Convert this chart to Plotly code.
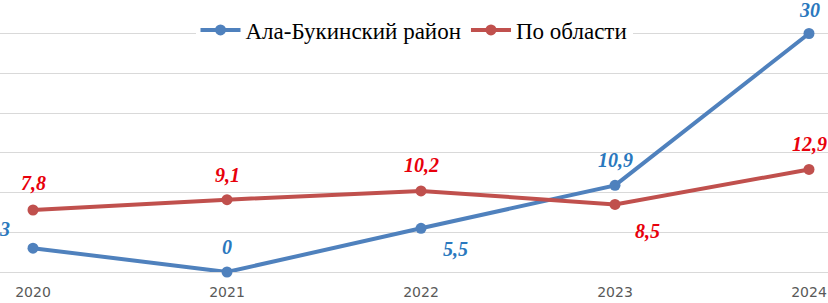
import plotly.graph_objects as go

years = ["2020", "2021", "2022", "2023", "2024"]
district_name = "Ала-Букинский район"
district_values = [3, 0, 5.5, 10.9, 30]
region_name = "По области"
region_values = [7.8, 9.1, 10.2, 8.5, 12.9]

# label offsets in px (style)
district_offsets = [(-29, 19), (0, 25), (34, -21), (0, 25), (0, 24)]
region_offsets = [(0, 27), (0, 25), (0, 26), (32, -27), (0, 25)]

BLUE_LINE = "#4F81BD"
RED_LINE = "#C0504D"
BLUE_TXT = "#2A78BE"
RED_TXT = "#E8000B"
SERIF = "Liberation Serif"

xs = list(range(len(years)))

def fmt(v):
    return f"{v:g}".replace(".", ",")

fig = go.Figure()
fig.add_trace(go.Scatter(x=xs, y=district_values, name=district_name, mode="lines+markers",
                         line=dict(color=BLUE_LINE, width=4), marker=dict(size=11, color=BLUE_LINE),
                         cliponaxis=False))
fig.add_trace(go.Scatter(x=xs, y=region_values, name=region_name, mode="lines+markers",
                         line=dict(color=RED_LINE, width=4), marker=dict(size=11, color=RED_LINE),
                         cliponaxis=False))

annos = []
for vals, offs, col in [(district_values, district_offsets, BLUE_TXT), (region_values, region_offsets, RED_TXT)]:
    for x, v, (dx, dy) in zip(xs, vals, offs):
        annos.append(dict(x=x, y=v, text=f"<b><i>{fmt(v)}</i></b>", showarrow=False,
                          xshift=dx, yshift=dy, font=dict(family=SERIF, size=20, color=col),
                          xanchor="center", yanchor="middle"))

fig.update_layout(
    width=828, height=303,
    margin=dict(l=0, r=0, t=0, b=31),
    paper_bgcolor="white", plot_bgcolor="white",
    showlegend=True,
    legend=dict(orientation="h", x=0.5, xanchor="center", y=(272 - 30) / 272, yanchor="middle",
                bgcolor="white", font=dict(family=SERIF, size=23, color="black"),
                itemwidth=40, tracegroupgap=0),
    annotations=annos,
    xaxis=dict(range=[-33 / 194, 4 + 19 / 194], tickvals=xs, ticktext=years, showgrid=False,
               zeroline=False, showline=False, ticks="", ticklabelstandoff=10,
               tickfont=dict(family="DejaVu Sans", size=14, color="#595959"), automargin=False),
    yaxis=dict(range=[0, 272 / 7.95], dtick=5, tick0=0, showticklabels=False, showgrid=True,
               gridcolor="#D9D9D9", gridwidth=1, zeroline=True, zerolinecolor="#D9D9D9",
               zerolinewidth=1, automargin=False),
)

fig.write_html("out.html", config={"displayModeBar": False},
               post_script="document.body.style.margin='0px';")
